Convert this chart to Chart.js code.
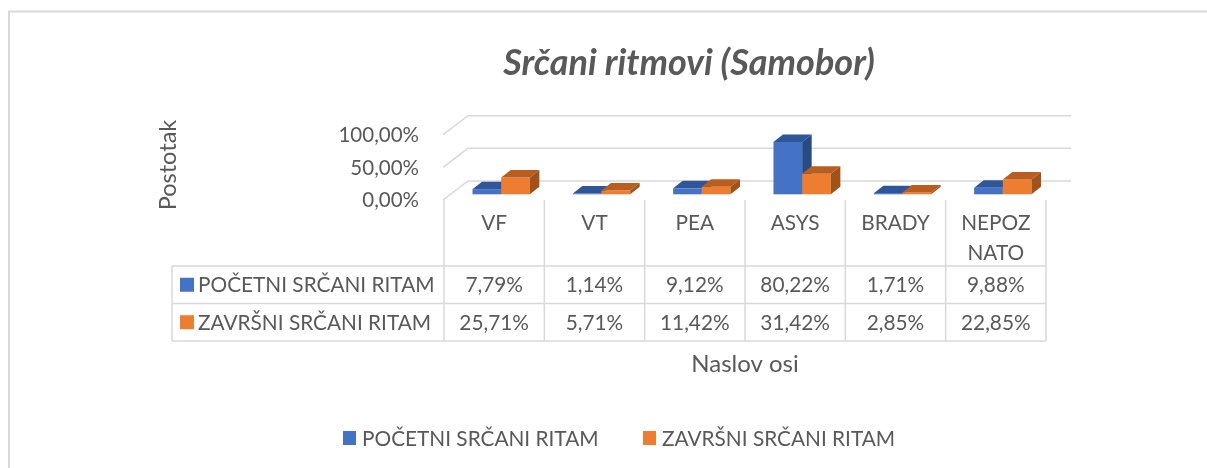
<!DOCTYPE html>
<html>
<head>
<meta charset="utf-8">
<script src="https://cdn.jsdelivr.net/npm/chart.js@4.4.1/dist/chart.umd.min.js"></script>
<style>
  html, body { margin: 0; padding: 0; background: #fff; }
  #wrap { width: 1207px; height: 468px; }
</style>
</head>
<body>
<div id="wrap"><canvas id="srcaniChart" width="1207" height="468"></canvas></div>
<script>
// data
const chartTitle = "Srčani ritmovi (Samobor)";
const categories = ["VF", "VT", "PEA", "ASYS", "BRADY", ["NEPOZ", "NATO"]];
const seriesNames = ["POČETNI SRČANI RITAM", "ZAVRŠNI SRČANI RITAM"];
const pocetniValues = [7.79, 1.14, 9.12, 80.22, 1.71, 9.88];
const zavrsniValues = [25.71, 5.71, 11.42, 31.42, 2.85, 22.85];
const yTickValues = [0, 50, 100];
const yAxisTitle = "Postotak";
const xAxisTitle = "Naslov osi";

const FONT = 'Lato, "Open Sans", sans-serif';
const TEXT = "#595959";
const GRID = "#D9D9D9";
const frontColors = ["#4472C4", "#ED7D31"];
const topColors = ["#30569A", "#BA5E20"];
const sideColors = ["#2A4A85", "#A0521B"];

// 3D depth offsets
const DEPTH_X = 9.5, DEPTH_Y = -7.5;

function pct(v) {
  return v.toFixed(2).replace(".", ",") + "%";
}

const excel3d = {
  id: "excel3d",
  beforeDraw(chart) {
    const ctx = chart.ctx;
    const area = chart.chartArea;
    const yScale = chart.scales.y;
    const catW = (area.right - area.left) / categories.length;
    const tableLeft = area.left - 7;
    const tableRight = tableLeft + catW * categories.length;

    ctx.save();
    ctx.fillStyle = "#fff";
    ctx.fillRect(0, 0, chart.width, chart.height);

    // chart outer border (top + left)
    ctx.strokeStyle = GRID;
    ctx.lineWidth = 2;
    ctx.beginPath();
    ctx.moveTo(9, chart.height + 5);
    ctx.lineTo(9, 11.5);
    ctx.lineTo(chart.width + 5, 11.5);
    ctx.stroke();

    // title
    ctx.fillStyle = TEXT;
    ctx.font = "italic bold 36px " + FONT;
    ctx.textAlign = "center";
    ctx.textBaseline = "middle";
    ctx.fillText(chartTitle, 689, 63);

    // walls: side edges + back gridlines
    ctx.strokeStyle = GRID;
    ctx.lineWidth = 1.5;
    yTickValues.forEach((v) => {
      const p = yScale.getPixelForValue(v);
      ctx.beginPath();
      ctx.moveTo(tableLeft - 1, p + 5.7);
      ctx.lineTo(area.left + 17, p - 13.3);
      ctx.lineTo(area.right + 18, p - 13.3);
      ctx.stroke();
    });

    // y tick labels
    ctx.fillStyle = TEXT;
    ctx.font = "20.5px " + FONT;
    ctx.textAlign = "right";
    ctx.textBaseline = "middle";
    yTickValues.forEach((v) => {
      const p = yScale.getPixelForValue(v);
      ctx.fillText(pct(v), 419, p + 6.5);
    });

    // y axis title
    ctx.save();
    ctx.translate(168, 165);
    ctx.rotate(-Math.PI / 2);
    ctx.font = "23.5px " + FONT;
    ctx.textAlign = "center";
    ctx.fillText(yAxisTitle, 0, 0);
    ctx.restore();

    // data table
    const headTop = yScale.getPixelForValue(0) + 5.7;
    const rowLines = [266, 303.5, 341];
    const labelLeft = 172;
    ctx.strokeStyle = GRID;
    ctx.lineWidth = 1.5;
    ctx.beginPath();
    rowLines.forEach((ry) => {
      ctx.moveTo(labelLeft, ry);
      ctx.lineTo(tableRight, ry);
    });
    ctx.moveTo(labelLeft, rowLines[0]);
    ctx.lineTo(labelLeft, rowLines[2]);
    for (let i = 0; i <= categories.length; i++) {
      const cx = tableLeft + catW * i;
      ctx.moveTo(cx, headTop);
      ctx.lineTo(cx, rowLines[2]);
    }
    ctx.stroke();

    ctx.fillStyle = TEXT;
    ctx.font = "20.8px " + FONT;
    ctx.textAlign = "center";
    ctx.textBaseline = "middle";
    categories.forEach((c, i) => {
      const cx = tableLeft + catW * (i + 0.5);
      const lines = Array.isArray(c) ? c : [c];
      lines.forEach((ln, j) => ctx.fillText(ln, cx, 223 + j * 30));
    });

    const rows = [pocetniValues, zavrsniValues];
    rows.forEach((vals, r) => {
      const cy = (rowLines[r] + rowLines[r + 1]) / 2;
      ctx.fillStyle = frontColors[r];
      ctx.fillRect(180, cy - 7, 14, 14);
      ctx.fillStyle = TEXT;
      ctx.textAlign = "left";
      ctx.fillText(seriesNames[r], 198, cy + 1);
      ctx.textAlign = "center";
      vals.forEach((v, i) => {
        ctx.fillText(pct(v), tableLeft + catW * (i + 0.5), cy + 1);
      });
    });

    // x axis title
    ctx.font = "24px " + FONT;
    ctx.fillText(xAxisTitle, (tableLeft + tableRight) / 2, 364);

    // legend
    ctx.font = "20.8px " + FONT;
    ctx.textAlign = "left";
    const legendX = [343, 643];
    seriesNames.forEach((name, i) => {
      ctx.fillStyle = frontColors[i];
      ctx.fillRect(legendX[i], 431, 13, 14);
      ctx.fillStyle = TEXT;
      ctx.fillText(name, legendX[i] + 19, 439);
    });
    ctx.restore();
  },
  // bars are drawn here, category by category, so each box covers its neighbour correctly
  afterDatasetsDraw(chart) {
    const ctx = chart.ctx;
    const metas = chart.data.datasets.map((_, i) => chart.getDatasetMeta(i));
    ctx.save();
    categories.forEach((_, c) => {
      metas.forEach((meta, idx) => {
        const bar = meta.data[c];
        const { x, y, base, width } = bar.getProps(["x", "y", "base", "width"], true);
        const x0 = x - width / 2, x1 = x + width / 2;
        // front face
        ctx.fillStyle = frontColors[idx];
        ctx.fillRect(x0, y, width, base - y);
        // top face
        ctx.fillStyle = topColors[idx];
        ctx.beginPath();
        ctx.moveTo(x0, y);
        ctx.lineTo(x1, y);
        ctx.lineTo(x1 + DEPTH_X, y + DEPTH_Y);
        ctx.lineTo(x0 + DEPTH_X, y + DEPTH_Y);
        ctx.closePath();
        ctx.fill();
        // side face
        ctx.fillStyle = sideColors[idx];
        ctx.beginPath();
        ctx.moveTo(x1, y);
        ctx.lineTo(x1 + DEPTH_X, y + DEPTH_Y);
        ctx.lineTo(x1 + DEPTH_X, base + DEPTH_Y);
        ctx.lineTo(x1, base);
        ctx.closePath();
        ctx.fill();
      });
    });
    ctx.restore();
  },
};

new Chart(document.getElementById("srcaniChart").getContext("2d"), {
  type: "bar",
  data: {
    labels: categories,
    datasets: [
      {
        label: seriesNames[0],
        data: pocetniValues,
        backgroundColor: "rgba(0,0,0,0)",
      },
      {
        label: seriesNames[1],
        data: zavrsniValues,
        backgroundColor: "rgba(0,0,0,0)",
      },
    ],
  },
  options: {
    responsive: false,
    animation: false,
    layout: {
      padding: { left: 451, right: 1207 - 1053, top: 129, bottom: 468 - 194.3 },
    },
    datasets: {
      bar: { categoryPercentage: 0.572, barPercentage: 1, borderWidth: 0 },
    },
    scales: {
      x: { display: false },
      y: { display: false, min: 0, max: 100 },
    },
    plugins: {
      legend: { display: false },
      title: { display: false },
      tooltip: { enabled: false },
    },
  },
  plugins: [excel3d],
});
</script>
</body>
</html>
